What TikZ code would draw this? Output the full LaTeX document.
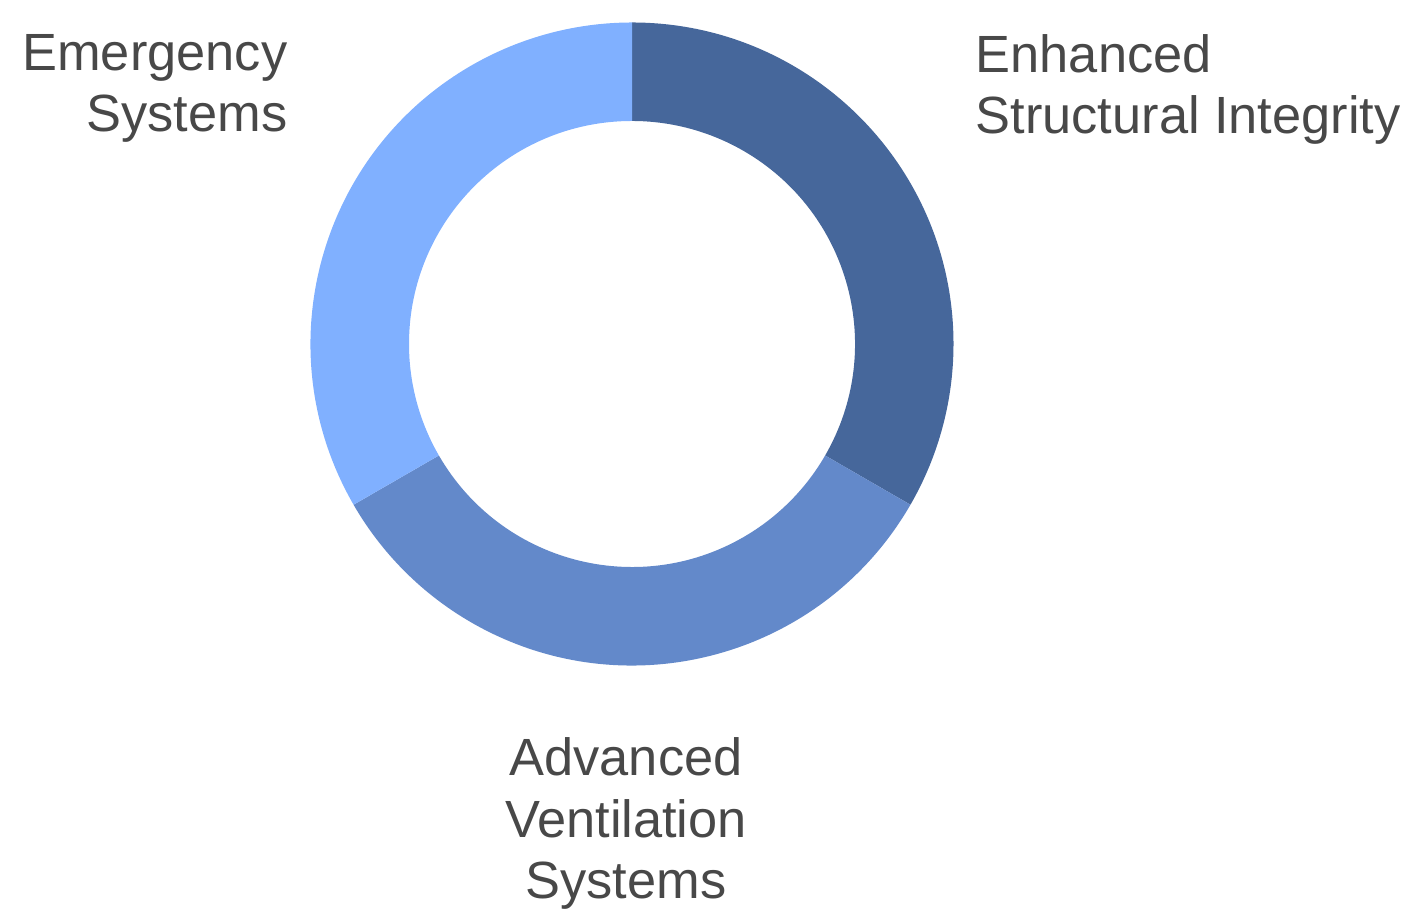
\documentclass[tikz,border=0pt]{standalone}
\usepackage{fontspec}
\setmainfont{Liberation Sans}
\definecolor{segdark}{HTML}{46679B}
\definecolor{segmid}{HTML}{6389CA}
\definecolor{seglight}{HTML}{80B0FF}
\definecolor{labelgray}{HTML}{484848}
\begin{document}
\begin{tikzpicture}[chartlabel/.style={text=labelgray, inner sep=0pt, font=\fontsize{14.9pt}{17.6pt}\selectfont}]
		\useasboundingbox (0, 0) rectangle (14.15, 9.16);
		\coordinate (c) at (6.32, 5.72);

		\foreach \a/\b/\col in {90/-30/segdark, -30/-150/segmid, 210/90/seglight}
		\fill[color=\col] ([shift={(\a:3.215)}]c) arc[start angle=\a, end angle=\b, radius=3.215]
			-- ([shift={(\b:2.23)}]c) arc[start angle=\b, end angle=\a, radius=2.23] -- cycle;

		\node[chartlabel, anchor=base east, align=right] (emergency) at (2.88, 7.84) {Emergency\\Systems};
		\node[chartlabel, anchor=base west, align=left] (structural) at (9.75, 7.82) {Enhanced\\Structural Integrity};
		\node[chartlabel, anchor=base, align=center] (ventilation) at (6.26, 0.17) {Advanced\\Ventilation\\Systems};

	\end{tikzpicture}
\end{document}
